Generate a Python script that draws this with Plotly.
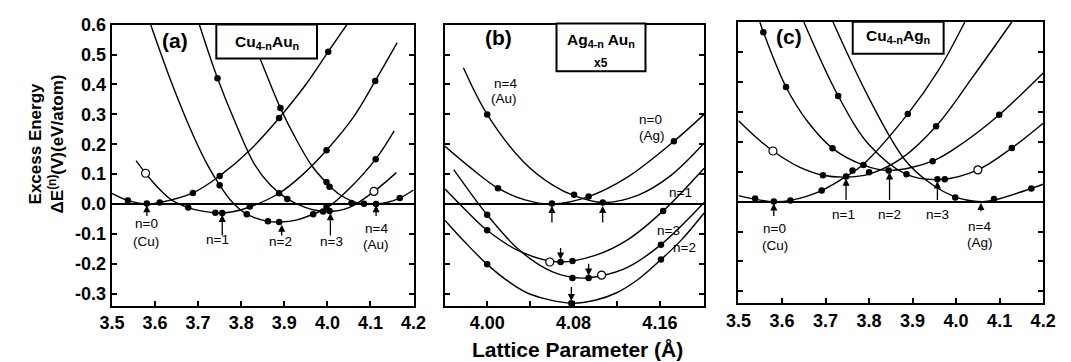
import plotly.graph_objects as go

W, H = 1071, 362
FONT = "Liberation Sans, Arial, Helvetica, sans-serif"

# ---------------- Panel (a): Cu(4-n)Au(n) ----------------
A0_CX = [3.5, 3.537, 3.58, 3.611, 3.688, 3.75, 3.82, 3.888, 3.95, 4.002, 4.045]
A0_CY = [0.036, 0.012, 0.0, 0.005, 0.037, 0.094, 0.18, 0.288, 0.40, 0.51, 0.60]
A0_DX = [3.537, 3.581, 3.611, 3.688, 3.75, 3.888, 4.002]
A0_DY = [0.012, 0.002, 0.005, 0.037, 0.094, 0.288, 0.51]

A1_CX = [3.556, 3.578, 3.61, 3.64, 3.677, 3.71, 3.745, 3.78, 3.82, 3.888, 3.94, 3.998, 4.06, 4.111, 4.162]
A1_CY = [0.145, 0.103, 0.05, 0.012, -0.012, -0.024, -0.030, -0.026, -0.010, 0.036, 0.095, 0.18, 0.29, 0.412, 0.54]
A1_DX = [3.677, 3.74, 3.756, 3.82, 3.888, 3.998, 4.111]
A1_DY = [-0.012, -0.029, -0.030, -0.008, 0.036, 0.18, 0.412]
A1_OX = [3.578]
A1_OY = [0.103]

A2_CX = [3.59, 3.64, 3.69, 3.722, 3.75, 3.78, 3.813, 3.862, 3.89, 3.93, 3.967, 4.0, 4.05, 4.112, 4.155]
A2_CY = [0.6, 0.4, 0.225, 0.13, 0.063, 0.005, -0.034, -0.058, -0.060, -0.053, -0.034, -0.012, 0.05, 0.15, 0.245]
A2_DX = [3.75, 3.813, 3.862, 3.888, 3.967, 3.998, 4.112]
A2_DY = [0.063, -0.034, -0.058, -0.060, -0.034, -0.008, 0.150]

A3_CX = [3.703, 3.745, 3.79, 3.832, 3.87, 3.907, 3.95, 3.998, 4.05, 4.108, 4.16]
A3_CY = [0.6, 0.421, 0.26, 0.13, 0.06, 0.017, -0.012, -0.025, -0.012, 0.042, 0.105]
A3_DX = [3.745, 3.907, 3.99, 4.005]
A3_DY = [0.421, 0.017, -0.025, -0.023]
A3_OX = [4.108]
A3_OY = [0.042]

A4_CX = [3.84, 3.847, 3.891, 3.93, 3.964, 4.0, 4.03, 4.06, 4.085, 4.113, 4.14, 4.168, 4.2]
A4_CY = [0.5, 0.475, 0.321, 0.21, 0.128, 0.068, 0.03, 0.008, 0.001, 0.0, 0.006, 0.02, 0.047]
A4_DX = [3.891, 3.998, 4.005, 4.056, 4.085, 4.113, 4.168]
A4_DY = [0.321, 0.074, 0.058, 0.003, 0.001, 0.0, 0.02]

# ---------------- Panel (b): Ag(4-n)Au(n), x5 ----------------
B0_CX = [3.961, 3.985, 4.010, 4.035, 4.06, 4.094, 4.13, 4.173, 4.201]
B0_CY = [0.193, 0.12, 0.053, 0.014, 0.0, 0.025, 0.09, 0.21, 0.30]
B0_DX = [4.010, 4.06, 4.094, 4.173]
B0_DY = [0.053, 0.002, 0.025, 0.21]

B4_CX = [3.978, 4.0, 4.034, 4.06, 4.0805, 4.107, 4.14, 4.17, 4.201]
B4_CY = [0.456, 0.30, 0.14, 0.065, 0.028, 0.005, 0.03, 0.095, 0.204]
B4_DX = [4.0, 4.0805, 4.107]
B4_DY = [0.30, 0.031, 0.005]

B1_CX = [3.961, 3.98, 4.0, 4.03, 4.066, 4.1, 4.13, 4.163, 4.201]
B1_CY = [0.05, -0.02, -0.088, -0.158, -0.194, -0.172, -0.12, -0.023, 0.12]
B1_DX = [4.0, 4.068, 4.079, 4.163]
B1_DY = [-0.088, -0.194, -0.191, -0.023]
B1_OX = [4.058]
B1_OY = [-0.194]

B3_CX = [3.969, 3.985, 4.0, 4.03, 4.06, 4.087, 4.106, 4.13, 4.161, 4.201]
B3_CY = [0.115, 0.035, -0.036, -0.155, -0.226, -0.248, -0.24, -0.212, -0.136, 0.005]
B3_DX = [4.0, 4.079, 4.094, 4.161]
B3_DY = [-0.036, -0.248, -0.248, -0.136]
B3_OX = [4.106]
B3_OY = [-0.238]

B2_CX = [3.961, 3.98, 4.0, 4.02, 4.04, 4.078, 4.1, 4.12, 4.14, 4.161, 4.18, 4.201]
B2_CY = [-0.055, -0.13, -0.202, -0.26, -0.302, -0.332, -0.322, -0.297, -0.252, -0.186, -0.12, -0.03]
B2_DX = [4.0, 4.078, 4.161]
B2_DY = [-0.202, -0.332, -0.186]

# ---------------- Panel (c): Cu(4-n)Ag(n) ----------------
C0_CX = [3.5, 3.538, 3.581, 3.619, 3.691, 3.747, 3.787, 3.889, 3.96, 4.02]
C0_CY = [0.02, 0.008, 0.0, 0.004, 0.037, 0.084, 0.125, 0.293, 0.44, 0.6]
C0_DX = [3.538, 3.581, 3.619, 3.691, 3.747, 3.762, 3.889]
C0_DY = [0.010, 0.0, 0.004, 0.037, 0.084, 0.104, 0.293]

C1_CX = [3.5, 3.54, 3.579, 3.64, 3.694, 3.747, 3.8, 3.87, 3.954, 4.04, 4.128]
C1_CY = [0.27, 0.215, 0.169, 0.115, 0.088, 0.082, 0.092, 0.14, 0.252, 0.42, 0.6]
C1_DX = [3.694, 3.8, 3.954]
C1_DY = [0.088, 0.098, 0.252]
C1_OX = [3.579]
C1_OY = [0.169]

C2_CX = [3.549, 3.557, 3.609, 3.66, 3.716, 3.787, 3.845, 3.946, 4.02, 4.099, 4.2]
C2_CY = [0.6, 0.566, 0.383, 0.265, 0.178, 0.122, 0.104, 0.135, 0.2, 0.29, 0.43]
C2_DX = [3.557, 3.609, 3.716, 3.787, 3.845, 3.946, 4.099]
C2_DY = [0.566, 0.383, 0.178, 0.122, 0.104, 0.135, 0.290]

C3_CX = [3.65, 3.729, 3.8, 3.886, 3.965, 4.05, 4.128, 4.2]
C3_CY = [0.6, 0.353, 0.19, 0.091, 0.074, 0.106, 0.179, 0.262]
C3_DX = [3.729, 3.886, 3.957, 3.974, 4.128]
C3_DY = [0.353, 0.091, 0.075, 0.075, 0.179]
C3_OX = [4.05]
C3_OY = [0.106]

C4_CX = [3.717, 3.80, 3.882, 3.94, 3.998, 4.058, 4.087, 4.173, 4.2]
C4_CY = [0.6, 0.345, 0.14, 0.062, 0.016, 0.0, 0.005, 0.044, 0.058]
C4_DX = [3.998, 4.087, 4.173]
C4_DY = [0.014, 0.009, 0.044]

# tick labels
X_TICKS_AC = [3.5, 3.6, 3.7, 3.8, 3.9, 4.0, 4.1, 4.2]
X_TEXT_AC = ["3.5", "3.6", "3.7", "3.8", "3.9", "4.0", "4.1", "4.2"]
X_TICKS_B = [4.00, 4.04, 4.08, 4.12, 4.16]
X_TEXT_B = ["4.00", "", "4.08", "", "4.16"]
Y_TICKS = [0.6, 0.5, 0.4, 0.3, 0.2, 0.1, 0.0, -0.1, -0.2, -0.3]
Y_TEXT = ["0.6", "0.5", "0.4", "0.3", "0.2", "0.1", "0.0", "-0.1", "-0.2", "-0.3"]

fig = go.Figure()


def add_curve(cx, cy, dx, dy, ox=None, oy=None, ax="x", ay="y"):
    fig.add_trace(go.Scatter(x=cx, y=cy, mode="lines", xaxis=ax, yaxis=ay,
                             line=dict(color="black", width=1.4, shape="spline", smoothing=1.0),
                             showlegend=False, hoverinfo="skip"))
    fig.add_trace(go.Scatter(x=dx, y=dy, mode="markers", xaxis=ax, yaxis=ay, cliponaxis=False,
                             marker=dict(color="black", size=6.5, line=dict(width=0)),
                             showlegend=False, hoverinfo="skip"))
    if ox:
        fig.add_trace(go.Scatter(x=ox, y=oy, mode="markers", xaxis=ax, yaxis=ay, cliponaxis=False,
                                 marker=dict(color="white", size=8, line=dict(color="black", width=1.2)),
                                 showlegend=False, hoverinfo="skip"))


add_curve(A0_CX, A0_CY, A0_DX, A0_DY)
add_curve(A1_CX, A1_CY, A1_DX, A1_DY, A1_OX, A1_OY)
add_curve(A2_CX, A2_CY, A2_DX, A2_DY)
add_curve(A3_CX, A3_CY, A3_DX, A3_DY, A3_OX, A3_OY)
add_curve(A4_CX, A4_CY, A4_DX, A4_DY)

add_curve(B0_CX, B0_CY, B0_DX, B0_DY, ax="x2", ay="y2")
add_curve(B4_CX, B4_CY, B4_DX, B4_DY, ax="x2", ay="y2")
add_curve(B1_CX, B1_CY, B1_DX, B1_DY, B1_OX, B1_OY, ax="x2", ay="y2")
add_curve(B3_CX, B3_CY, B3_DX, B3_DY, B3_OX, B3_OY, ax="x2", ay="y2")
add_curve(B2_CX, B2_CY, B2_DX, B2_DY, ax="x2", ay="y2")

add_curve(C0_CX, C0_CY, C0_DX, C0_DY, ax="x3", ay="y3")
add_curve(C1_CX, C1_CY, C1_DX, C1_DY, C1_OX, C1_OY, ax="x3", ay="y3")
add_curve(C2_CX, C2_CY, C2_DX, C2_DY, ax="x3", ay="y3")
add_curve(C3_CX, C3_CY, C3_DX, C3_DY, C3_OX, C3_OY, ax="x3", ay="y3")
add_curve(C4_CX, C4_CY, C4_DX, C4_DY, ax="x3", ay="y3")


def xdom(a, b):
    return [a / W, b / W]


def ydom(top, bottom):
    return [1 - bottom / H, 1 - top / H]


common_x = dict(ticks="inside", ticklen=5, tickwidth=1.5, tickcolor="black", showline=True,
                linewidth=2, linecolor="black", mirror=True, showgrid=False, zeroline=False,
                tickfont=dict(family=FONT, size=18, color="black", weight="bold"))
common_y = dict(ticks="inside", ticklen=5, tickwidth=1.5, tickcolor="black", showline=True,
                linewidth=2, linecolor="black", mirror="ticks", showgrid=False,
                zeroline=True, zerolinecolor="black", zerolinewidth=1.5,
                range=[-0.34, 0.6005], tickvals=Y_TICKS, ticktext=Y_TEXT,
                tickfont=dict(family=FONT, size=18, color="black", weight="bold"))

fig.update_layout(
    width=W, height=H, margin=dict(l=0, r=0, t=0, b=0),
    paper_bgcolor="white", plot_bgcolor="white",
    xaxis=dict(common_x, domain=xdom(102, 411), range=[3.4995, 4.2005], anchor="y",
               tickvals=X_TICKS_AC, ticktext=X_TEXT_AC),
    yaxis=dict(common_y, domain=ydom(15, 304), anchor="x"),
    xaxis2=dict(common_x, domain=xdom(443, 708), range=[3.961, 4.201], anchor="y2",
                tickvals=X_TICKS_B, ticktext=X_TEXT_B),
    yaxis2=dict(common_y, domain=ydom(15, 304), anchor="x2", showticklabels=False),
    xaxis3=dict(common_x, domain=xdom(743, 1055), range=[3.4995, 4.2005], anchor="y3",
                tickvals=X_TICKS_AC, ticktext=X_TEXT_AC),
    yaxis3=dict(common_y, domain=ydom(12.2, 301.7), anchor="x3", showticklabels=False),
    font=dict(family=FONT, color="black"),
)

ann = []
shapes = []


def label(x, y, text, xr="x", yr="y", size=13.5):
    ann.append(dict(x=x, y=y, xref=xr, yref=yr, text=text, showarrow=False,
                    font=dict(family=FONT, size=size, color="black")))


def arrow(x, yh, yt, xr="x", yr="y"):
    ann.append(dict(x=x, y=yh, ax=x, ay=yt, xref=xr, yref=yr, axref=xr, ayref=yr,
                    text="", showarrow=True, arrowhead=2, arrowsize=1.1, arrowwidth=1.3,
                    arrowcolor="black", standoff=0, startstandoff=0))


def ptext(px, py, text, size, bold=True):
    ann.append(dict(x=px / W, y=1 - py / H, xref="paper", yref="paper", text=text,
                    showarrow=False, xanchor="center", yanchor="middle",
                    font=dict(family=FONT, size=size, color="black",
                              weight="bold" if bold else "normal")))


def box(x0, y0, x1, y1):
    shapes.append(dict(type="rect", xref="paper", yref="paper", x0=x0 / W, x1=x1 / W,
                       y0=1 - y1 / H, y1=1 - y0 / H, fillcolor="white",
                       line=dict(color="black", width=2), layer="above"))


# panel (a) annotations
arrow(3.581, -0.004, -0.045)
arrow(3.756, -0.036, -0.11)
arrow(3.894, -0.069, -0.11)
arrow(4.007, -0.030, -0.11)
arrow(4.113, -0.004, -0.045)
label(3.58, -0.066, "n=0")
label(3.58, -0.124, "(Cu)")
label(3.745, -0.120, "n=1")
label(3.892, -0.127, "n=2")
label(4.009, -0.127, "n=3")
label(4.114, -0.083, "n=4")
label(4.112, -0.136, "(Au)")

# panel (b) annotations
arrow(4.06, -0.006, -0.067, "x2", "y2")
arrow(4.107, -0.006, -0.067, "x2", "y2")
arrow(4.068, -0.186, -0.142, "x2", "y2")
arrow(4.094, -0.240, -0.195, "x2", "y2")
arrow(4.078, -0.325, -0.273, "x2", "y2")
label(4.017, 0.404, "n=4", "x2", "y2")
label(4.016, 0.352, "(Au)", "x2", "y2")
label(4.151, 0.282, "n=0", "x2", "y2")
label(4.153, 0.228, "(Ag)", "x2", "y2")
label(4.179, 0.038, "n=1", "x2", "y2")
label(4.168, -0.088, "n=3", "x2", "y2")
label(4.183, -0.145, "n=2", "x2", "y2")

# panel (c) annotations
arrow(3.581, -0.006, -0.053, "x3", "y3")
arrow(3.747, 0.077, 0.0, "x3", "y3")
arrow(3.847, 0.098, 0.0, "x3", "y3")
arrow(3.957, 0.068, 0.0, "x3", "y3")
arrow(4.057, -0.004, -0.037, "x3", "y3")
label(3.742, -0.044, "n=1", "x3", "y3")
label(3.846, -0.044, "n=2", "x3", "y3")
label(3.957, -0.044, "n=3", "x3", "y3")
label(3.583, -0.091, "n=0", "x3", "y3")
label(3.583, -0.147, "(Cu)", "x3", "y3")
label(4.054, -0.084, "n=4", "x3", "y3")
label(4.054, -0.138, "(Ag)", "x3", "y3")

# boxes with alloy names
box(209, 15, 312, 50)
ptext(261, 33, "Cu<sub>4-n</sub>Au<sub>n</sub>", 15.5)
box(557, 14, 648, 63)
ptext(602, 31, "Ag<sub>4-n</sub> Au<sub>n</sub>", 15.5)
ptext(602, 54, "x5", 12)
box(860, 12, 953, 45)
ptext(906, 27, "Cu<sub>4-n</sub>Ag<sub>n</sub>", 15.5)

# panel letters
ptext(167, 31, "(a)", 21)
ptext(498, 28, "(b)", 21)
ptext(795, 27, "(c)", 21)

# axis titles
ann.append(dict(x=35 / W, y=1 - 138 / H, xref="paper", yref="paper",
                text="Excess Energy<br>ΔE<sup>(n)</sup>(V)(eV/atom)", textangle=-90,
                showarrow=False, xanchor="center", yanchor="middle",
                font=dict(family=FONT, size=17, color="black", weight="bold")))
ptext(578, 349, "Lattice Parameter (Å)", 21)

fig.update_layout(annotations=ann, shapes=shapes)
fig.write_html("out.html")
